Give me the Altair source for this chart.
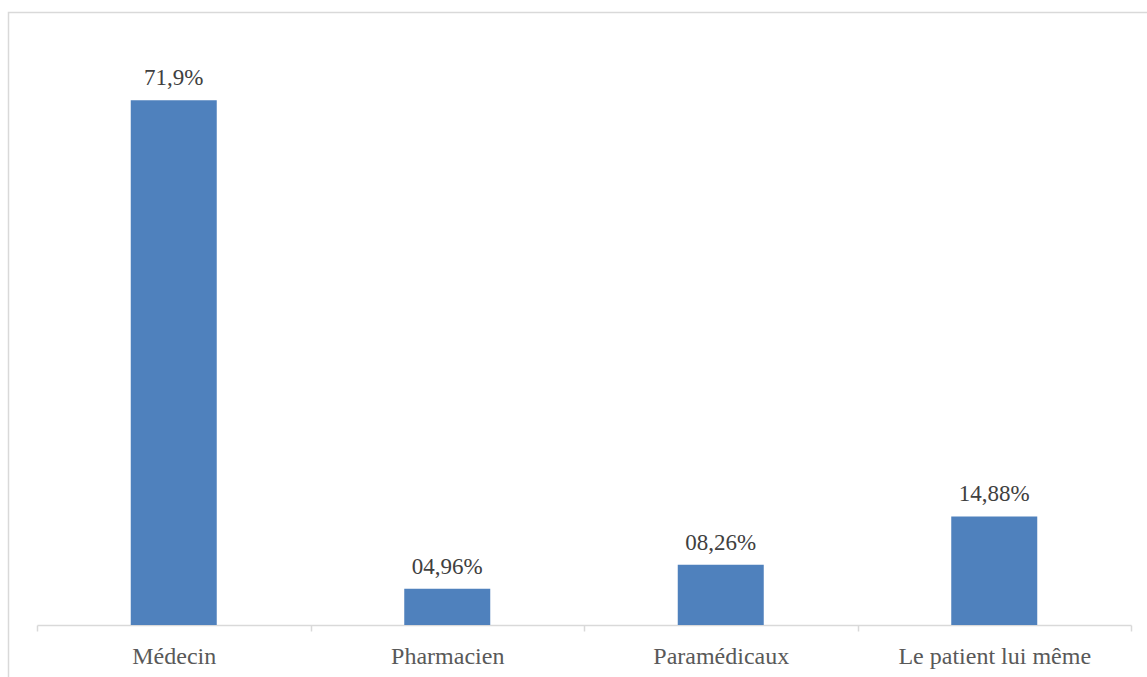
import altair as alt
import pandas as pd

# Source of the prescription / advice, share of respondents (%)
categories = ["Médecin", "Pharmacien", "Paramédicaux", "Le patient lui même"]
values = [71.9, 4.96, 8.26, 14.88]
value_labels = ["71,9%", "04,96%", "08,26%", "14,88%"]

df = pd.DataFrame({"cat": categories, "val": values, "lab": value_labels})

FONT = "Liberation Serif"
AXIS_TEXT = "#595959"
LABEL_TEXT = "#404040"
GRID_COLOR = "#d9d9d9"
BAR_COLOR = "#4f81bd"

x_enc = alt.X(
    "cat:N",
    sort=categories,
    title=None,
    scale=alt.Scale(paddingInner=0, paddingOuter=0),
    axis=alt.Axis(
        labelAngle=0,
        labelFont=FONT,
        labelFontSize=24,
        labelColor=AXIS_TEXT,
        labelBaseline="alphabetic",
        labelPadding=32,
        labelLimit=0,
        tickSize=6,
        tickColor=GRID_COLOR,
        tickWidth=1.5,
        tickBand="extent",
        domainColor=GRID_COLOR,
        domainWidth=1.5,
        grid=False,
    ),
)
y_enc = alt.Y("val:Q", scale=alt.Scale(domain=[0, 80]), axis=None)

bars = alt.Chart(df).mark_bar(size=86, color=BAR_COLOR).encode(x=x_enc, y=y_enc)

labels = alt.Chart(df).mark_text(
    font=FONT, fontSize=23, color=LABEL_TEXT, baseline="alphabetic", dy=-15
).encode(x=x_enc, y=y_enc, text="lab:N")

# light outer frame around the chart area
frame = alt.Chart(alt.Data(values=[{}])).mark_rect(
    fillOpacity=0, stroke=GRID_COLOR, strokeWidth=1.5
).encode(
    x=alt.value(-28.5), y=alt.value(-28.5), x2=alt.value(1300), y2=alt.value(800)
)

chart = (
    alt.layer(frame, bars, labels)
    .properties(
        width=1094,
        height=584,
        autosize=alt.AutoSizeParams(type="none"),
        padding={"left": 37, "top": 41, "right": 16, "bottom": 52},
        background="white",
    )
    .configure_view(strokeWidth=0)
)

chart.save("out.html", embed_options={"renderer": "svg", "actions": False})
